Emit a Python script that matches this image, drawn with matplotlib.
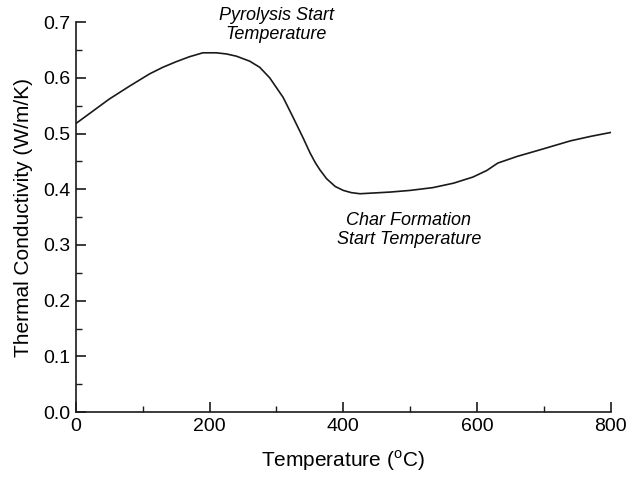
import matplotlib
matplotlib.use('Agg')
import matplotlib.pyplot as plt
from matplotlib.ticker import MultipleLocator

# data
temperature = [0, 25, 50, 80, 110, 130, 150, 170, 190, 210, 225, 240, 260,
               275, 290, 310, 325, 340, 350, 358, 365, 375, 388, 400, 412,
               425, 470, 500, 534, 565, 594, 615, 631, 660, 689, 740, 770, 800]
conductivity = [0.518, 0.540, 0.562, 0.585, 0.607, 0.619, 0.629, 0.638, 0.645,
                0.645, 0.643, 0.639, 0.630, 0.619, 0.600, 0.565, 0.529, 0.492,
                0.466, 0.448, 0.435, 0.419, 0.405, 0.398, 0.394, 0.392, 0.395,
                0.398, 0.403, 0.411, 0.422, 0.434, 0.447, 0.459, 0.469, 0.487,
                0.495, 0.502]

plt.rcParams['font.family'] = ['Liberation Sans', 'DejaVu Sans']
plt.rcParams['mathtext.fontset'] = 'custom'
plt.rcParams['mathtext.rm'] = 'Liberation Sans'

fig = plt.figure(figsize=(6.27, 4.82), dpi=100)
ax = fig.add_axes([0.121, 0.145, 0.853, 0.809])

ax.plot(temperature, conductivity, color='#1a1a1a', lw=1.2)

ax.set_xlim(0, 800)
ax.set_ylim(0, 0.7)
ax.xaxis.set_major_locator(MultipleLocator(200))
ax.xaxis.set_minor_locator(MultipleLocator(100))
ax.yaxis.set_major_locator(MultipleLocator(0.1))
ax.yaxis.set_minor_locator(MultipleLocator(0.05))
ax.yaxis.set_major_formatter(plt.FormatStrFormatter('%.1f'))

for s in ['top', 'right']:
    ax.spines[s].set_visible(False)
for s in ['left', 'bottom']:
    ax.spines[s].set_linewidth(1.2)
    ax.spines[s].set_color('#1a1a1a')

ax.tick_params(which='major', direction='in', length=7, width=1.2, labelsize=14,
               color='#1a1a1a', pad=4)
ax.tick_params(which='minor', direction='in', length=4, width=1.0, color='#1a1a1a')

ax.set_xlabel(r'Temperature ($^\mathrm{o}$C)', fontsize=15, labelpad=10)
ax.set_ylabel('Thermal Conductivity (W/m/K)', fontsize=15, labelpad=7)

ax.text(300, 0.695, 'Pyrolysis Start\nTemperature', style='italic', fontsize=13,
        ha='center', va='center', linespacing=1.1, clip_on=False)
ax.text(498, 0.327, 'Char Formation\nStart Temperature', style='italic', fontsize=13,
        ha='center', va='center', linespacing=1.1)

fig.savefig('out.png', dpi=100)
